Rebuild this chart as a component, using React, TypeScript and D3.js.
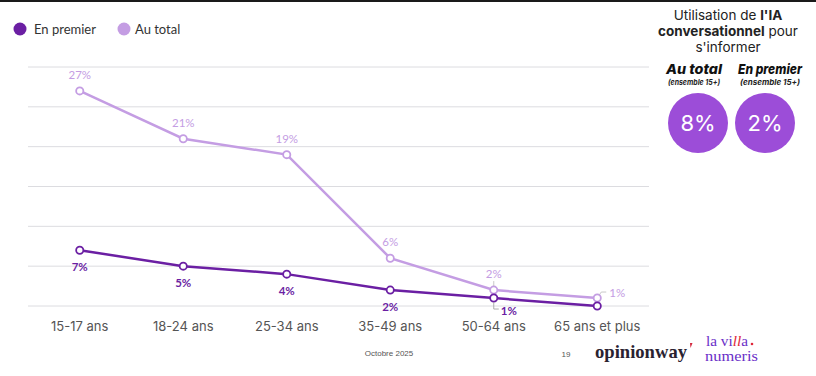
import React from "react";
import * as d3 from "d3";

const categories = ["15-17 ans", "18-24 ans", "25-34 ans", "35-49 ans", "50-64 ans", "65 ans et plus"];
const enPremier = [7, 5, 4, 2, 1, 0];
const auTotal = [27, 21, 19, 6, 2, 1];
const enPremierLabels = ["7%", "5%", "4%", "2%", "1%", ""];
const auTotalLabels = ["27%", "21%", "19%", "6%", "2%", "1%"];
const gridTicks = [0, 5, 10, 15, 20, 25, 30];
const summaryTitles = ["Au total", "En premier"];
const summaryValues = ["8%", "2%"];

const DARK = "#6b1fa3";
const LIGHT = "#c49de3";
const CIRCLE = "#9c4dd8";

export default function App() {
  const W = 816, H = 376;
  const x = d3.scaleBand<string>().domain(categories).range([28, 649]);
  const y = d3.scaleLinear().domain([0, 30]).range([306, 67]);
  const cx = (c: string) => (x(c) as number) + x.bandwidth() / 2;

  const line = d3
    .line<number>()
    .x((_, i) => cx(categories[i]))
    .y((d) => y(d));

  const labelFont = "Lato, 'Liberation Sans', sans-serif";
  const geoFont = "Inter, 'Open Sans', sans-serif";

  const titleCenters = [694, 770];
  const titleWidths = [56, 64];
  const circleCenters = [698, 765];

  return (
    <div style={{ position: "absolute", left: 0, top: 0 }}>
      <svg width={W} height={H} style={{ display: "block", background: "#fff" }}>
        <rect x={0} y={0} width={W} height={2} fill="#1a1a1a" />
        {/* legend */}
        <circle cx={20} cy={29} r={6.5} fill={DARK} />
        <text x={34} y={33.5} fontFamily={labelFont} fontSize={13} fill="#333">En premier</text>
        <circle cx={124} cy={29} r={6.5} fill={LIGHT} />
        <text x={135} y={33.5} fontFamily={labelFont} fontSize={13} fill="#333">Au total</text>

        {/* grid */}
        {gridTicks.map((t) => (
          <line key={t} x1={28} x2={649} y1={y(t)} y2={y(t)} stroke="#dcdce0" strokeWidth={1} />
        ))}

        {/* x axis labels */}
        {categories.map((c) => (
          <text key={c} x={cx(c)} y={331} textAnchor="middle" fontFamily={geoFont} fontSize={13} fill="#555">
            {c}
          </text>
        ))}

        {/* lines */}
        <path d={line(auTotal) || ""} fill="none" stroke={LIGHT} strokeWidth={2.5} />
        <path d={line(enPremier) || ""} fill="none" stroke={DARK} strokeWidth={2.5} />
        {auTotal.map((v, i) => (
          <circle key={"t" + i} cx={cx(categories[i])} cy={y(v)} r={3.6} fill="#fff" stroke={LIGHT} strokeWidth={1.8} />
        ))}
        {enPremier.map((v, i) => (
          <circle key={"p" + i} cx={cx(categories[i])} cy={y(v)} r={3.6} fill="#fff" stroke={DARK} strokeWidth={1.8} />
        ))}

        {/* au total labels */}
        {auTotal.map((v, i) => {
          const px = cx(categories[i]);
          const py = y(v);
          if (i === auTotal.length - 1) {
            return (
              <g key={"tl" + i}>
                <path d={`M${px + 2},${py - 3} L${px + 4},${py - 6} L${px + 9},${py - 6}`} fill="none" stroke="#bbb" strokeWidth={0.8} />
                <text x={px + 12} y={py - 1.5} fontFamily={labelFont} fontSize={11.5} fill={LIGHT}>{auTotalLabels[i]}</text>
              </g>
            );
          }
          return (
            <g key={"tl" + i}>
              {i === 4 && <line x1={px} x2={px} y1={py - 4} y2={py - 9} stroke="#bbb" strokeWidth={0.8} />}
              <text x={px} y={py - 12} textAnchor="middle" fontFamily={labelFont} fontSize={11.5} fill={LIGHT}>
                {auTotalLabels[i]}
              </text>
            </g>
          );
        })}

        {/* en premier labels */}
        {enPremier.map((v, i) => {
          const px = cx(categories[i]);
          const py = y(v);
          const lab = enPremierLabels[i];
          if (!lab) return null;
          if (i === 4) {
            return (
              <g key={"pl" + i}>
                <path d={`M${px},${py + 4} L${px},${py + 11} L${px + 5},${py + 11}`} fill="none" stroke="#999" strokeWidth={0.8} />
                <text x={px + 7} y={py + 17} fontFamily={labelFont} fontSize={11.5} fontWeight={700} fill={DARK}>{lab}</text>
              </g>
            );
          }
          return (
            <text key={"pl" + i} x={px} y={py + 21} textAnchor="middle" fontFamily={labelFont} fontSize={11.5} fontWeight={700} fill={DARK}>
              {lab}
            </text>
          );
        })}

        {/* right panel */}
        <text x={728} y={20} textAnchor="middle" fontFamily={geoFont} fontSize={13.5} fill="#222">
          Utilisation de <tspan fontWeight={700}>l'IA</tspan>
        </text>
        <text x={728} y={36} textAnchor="middle" fontFamily={geoFont} fontSize={13.5} fill="#222">
          <tspan fontWeight={700}>conversationnel</tspan> pour
        </text>
        <text x={728} y={52} textAnchor="middle" fontFamily={geoFont} fontSize={13.5} fill="#222">s'informer</text>

        {summaryTitles.map((t, i) => (
          <g key={t}>
            <text x={titleCenters[i]} y={74} textAnchor="middle" fontFamily={geoFont} fontSize={13.5} fontWeight={800} fontStyle="italic" fill="#111" textLength={titleWidths[i]} lengthAdjust="spacingAndGlyphs">{t}</text>
            <text x={titleCenters[i]} y={85} textAnchor="middle" fontFamily={geoFont} fontSize={8} fontWeight={700} fontStyle="italic" fill="#222" textLength={titleWidths[i] - 4} lengthAdjust="spacingAndGlyphs">(ensemble 15+)</text>
            <circle cx={circleCenters[i]} cy={123} r={30} fill={CIRCLE} />
            <text x={circleCenters[i]} y={131} textAnchor="middle" fontFamily={geoFont} fontSize={22} fill="#fff">{summaryValues[i]}</text>
          </g>
        ))}

        {/* footer */}
        <text x={389} y={356} textAnchor="middle" fontFamily="'Liberation Sans Narrow', 'Liberation Sans', sans-serif" fontSize={8} fill="#555">Octobre 2025</text>
        <text x={566} y={357} textAnchor="middle" fontFamily="'Liberation Sans Narrow', 'Liberation Sans', sans-serif" fontSize={8} fill="#555">19</text>
        <text x={595} y={358} fontFamily="'Liberation Serif', serif" fontSize={19} fontWeight={700} fill="#2a2230" textLength={92} lengthAdjust="spacingAndGlyphs">opinionway</text>
        <path d="M690,343 L692.5,343 L690.5,348 Z" fill="#d2233a" />
        <text x={706} y={346} fontFamily="'Liberation Serif', serif" fontSize={15} fill="#6a2fc8" textLength={42} lengthAdjust="spacingAndGlyphs">
          la vi<tspan fill="#e0263a" fontStyle="italic">ll</tspan>a
        </text>
        <circle cx={752} cy={344} r={1.3} fill="#e0263a" />
        <text x={705} y={361} fontFamily="'Liberation Serif', serif" fontSize={15} fill="#6a2fc8" textLength={53} lengthAdjust="spacingAndGlyphs">numeris</text>
      </svg>
    </div>
  );
}
